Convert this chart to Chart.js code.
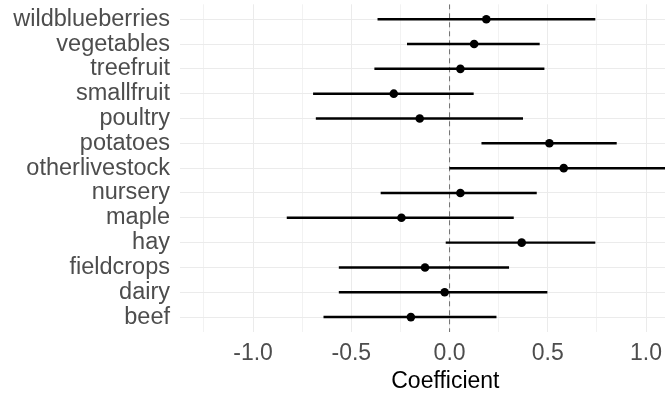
<!DOCTYPE html>
<html>
<head>
<meta charset="utf-8">
<script src="https://cdn.jsdelivr.net/npm/chart.js@4.4.0/dist/chart.umd.min.js"></script>
<style>
  html, body { margin: 0; padding: 0; background: #fff; overflow: hidden; }
  /* the reference is cropped on the right, so the canvas is wider than the window */
  #wrap { width: 665px; height: 395px; overflow: hidden; }
</style>
</head>
<body>
<div id="wrap"><canvas id="coefChart" width="715" height="395"></canvas></div>
<script>
// data (top to bottom)
const categories = ['wildblueberries', 'vegetables', 'treefruit', 'smallfruit', 'poultry', 'potatoes',
  'otherlivestock', 'nursery', 'maple', 'hay', 'fieldcrops', 'dairy', 'beef'];
const estimates = [0.187, 0.125, 0.055, -0.284, -0.152, 0.508, 0.581, 0.055, -0.245, 0.367, -0.125, -0.025, -0.197];
const lower = [-0.365, -0.215, -0.381, -0.693, -0.679, 0.164, 0.001, -0.349, -0.827, -0.018, -0.562, -0.562, -0.64];
const upper = [0.74, 0.457, 0.481, 0.121, 0.372, 0.849, 1.16, 0.442, 0.325, 0.74, 0.301, 0.496, 0.237];
const xTickLabels = [-1.0, -0.5, 0.0, 0.5, 1.0];
const refLine = 0;

const xMin = -1.372, xMax = 1.329;
const yMin = -0.6, yMax = categories.length - 1 + 0.6;

const labelFont = { family: '"Liberation Sans", Arial, sans-serif', size: 23 };
const isMajor = v => xTickLabels.some(t => Math.abs(t - v) < 1e-6);

const ctx = document.getElementById('coefChart').getContext('2d');

new Chart(ctx, {
  type: 'bar',
  data: {
    datasets: [
      {
        type: 'bar',
        indexAxis: 'y',
        data: categories.map((c, i) => ({ y: i, x: [lower[i], upper[i]] })),
        backgroundColor: '#000',
        barThickness: 1.8,
        order: 2
      },
      {
        type: 'scatter',
        data: categories.map((c, i) => ({ x: estimates[i], y: i })),
        backgroundColor: '#000',
        borderWidth: 0,
        pointRadius: 4.3,
        order: 1
      },
      {
        type: 'scatter',
        showLine: true,
        data: [{ x: refLine, y: yMin }, { x: refLine, y: yMax }],
        borderColor: '#6e6e6e',
        borderWidth: 1,
        borderDash: [5, 4],
        pointRadius: 0,
        order: 3
      }
    ]
  },
  options: {
    responsive: false,
    animation: false,
    devicePixelRatio: 1,
    layout: { padding: 0 },
    plugins: {
      legend: { display: false },
      tooltip: { enabled: false }
    },
    scales: {
      x: {
        type: 'linear',
        bounds: 'data',
        offset: false,
        min: xMin,
        max: xMax,
        afterBuildTicks: s => {
          // grid lines every 0.25, labels only on the major ones
          const ticks = [];
          for (let v = Math.ceil(xMin * 4) / 4; v <= xMax + 1e-9; v += 0.25) {
            ticks.push({ value: Math.round(v * 100) / 100 });
          }
          s.ticks = ticks;
          s.min = xMin;
          s.max = xMax;
        },
        afterFit: s => {
          s.height = 63;
          s.paddingLeft = 0;
          s.paddingRight = 0;
        },
        border: { display: false },
        grid: {
          offset: false,
          drawTicks: false,
          color: c => (c.tick && !isMajor(c.tick.value)) ? '#F2F2F2' : '#EBEBEB'
        },
        ticks: {
          autoSkip: false,
          maxRotation: 0,
          padding: 8,
          color: '#4D4D4D',
          font: labelFont,
          callback: v => isMajor(v) ? v.toFixed(1) : ''
        },
        title: {
          display: true,
          text: 'Coefficient',
          color: '#000',
          font: labelFont,
          padding: { top: 0, bottom: 0 }
        }
      },
      y: {
        type: 'linear',
        bounds: 'data',
        offset: false,
        reverse: true,
        min: yMin,
        max: yMax,
        afterBuildTicks: s => {
          s.ticks = categories.map((c, i) => ({ value: i }));
          s.min = yMin;
          s.max = yMax;
        },
        afterFit: s => {
          s.width = 180;
          s.paddingTop = 0;
          s.paddingBottom = 0;
        },
        border: { display: false },
        grid: { offset: false, drawTicks: false, color: '#EBEBEB' },
        ticks: {
          autoSkip: false,
          padding: 10,
          color: '#4D4D4D',
          font: { family: labelFont.family, size: 23.5 },
          callback: v => categories[v]
        }
      }
    }
  }
});
</script>
</body>
</html>
